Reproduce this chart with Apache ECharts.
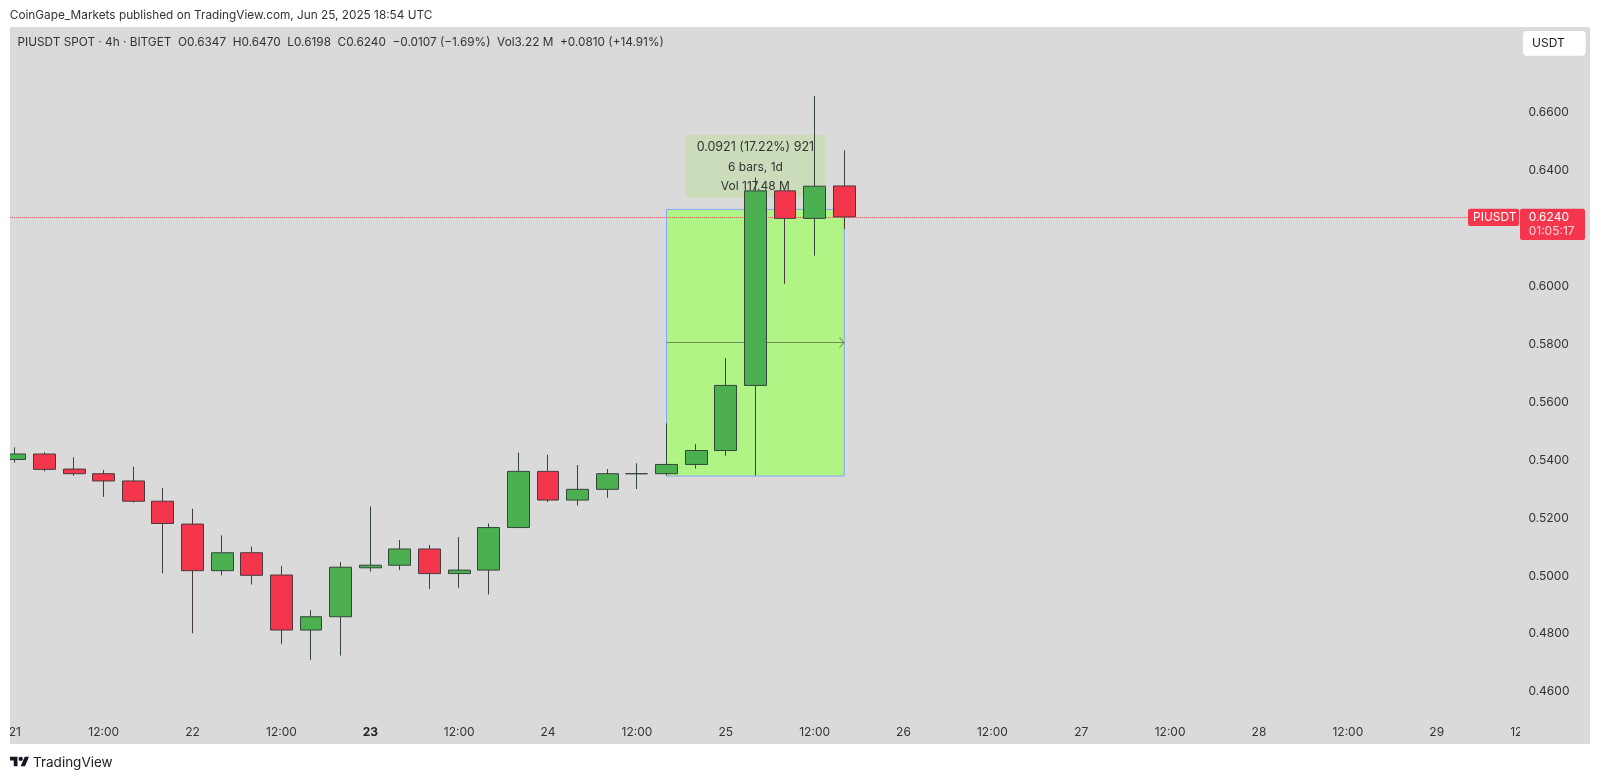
<!DOCTYPE html>
<html>
<head>
<meta charset="utf-8">
<title>PIUSDT</title>
<style>
  html, body { margin: 0; padding: 0; background: #fff; }
  #chart { width: 1600px; height: 779px; }
</style>
<script src="https://cdn.jsdelivr.net/npm/echarts@6/dist/echarts.min.js"></script>
</head>
<body>
<div id="chart"></div>
<script>
// one label per 4h slot, 21 Jun 00:00 onward
const timeLabels = [
  '21','','','12:00','','',
  '22','','','12:00','','',
  '23','','','12:00','','',
  '24','','','12:00','','',
  '25','','','12:00','','',
  '26','','','12:00','','',
  '27','','','12:00','','',
  '28','','','12:00','','',
  '29','','','12:00'
];
const opens  = [0.5402,0.5421,0.5369,0.5353,0.5328,0.5258,0.5179,0.5018,0.5080,0.5003,0.4813,0.4859,0.5028,0.5037,0.5093,0.5008,0.5020,0.5167,0.5361,0.5262,0.5299,0.5353,0.5353,0.5385,0.5433,0.5658,0.6330,0.6235,0.6347];
const closes = [0.5421,0.5368,0.5353,0.5328,0.5258,0.5181,0.5018,0.5080,0.5002,0.4813,0.4859,0.5030,0.5037,0.5093,0.5008,0.5020,0.5167,0.5361,0.5262,0.5299,0.5353,0.5353,0.5385,0.5433,0.5658,0.6330,0.6235,0.6346,0.6240];
const lows   = [0.5391,0.5361,0.5346,0.5273,0.5253,0.5009,0.4802,0.5002,0.4970,0.4764,0.4710,0.4725,0.5015,0.5020,0.4955,0.4959,0.4936,0.5167,0.5255,0.5243,0.5270,0.5300,0.5347,0.5371,0.5415,0.5347,0.6009,0.6106,0.6198];
const highs  = [0.5444,0.5427,0.5410,0.5366,0.5377,0.5304,0.5232,0.5140,0.5101,0.5034,0.4881,0.5048,0.5240,0.5124,0.5107,0.5134,0.5181,0.5426,0.5418,0.5383,0.5369,0.5389,0.5527,0.5455,0.5752,0.6376,0.6332,0.6658,0.6470];

const priceMin = 0.46;
const priceMax = 0.68;
const priceStep = 0.02;
const lastClose = 0.6240;

// long position drawing
const longStart = 22, longEnd = 28;
const longTop = 0.6266, longBottom = 0.5345, longMid = 0.5806;
const longLines = ['0.0921 (17.22%) 921', '6 bars, 1d', 'Vol 117.48 M'];

const publishLine = 'CoinGape_Markets published on TradingView.com, Jun 25, 2025 18:54 UTC';
const legendLine = 'PIUSDT SPOT · 4h · BITGET  O0.6347  H0.6470  L0.6198  C0.6240  −0.0107 (−1.69%)  Vol3.22 M  +0.0810 (+14.91%)';

const FONT = 'Inter, "Liberation Sans", sans-serif';
const GREEN = '#4caf50', RED = '#f4364c', BG = '#dadada';

function creatChart(){
  const chart = echarts.init(document.getElementById('chart'));
  window.addEventListener('resize', function() {
    chart.resize();
  });
  const chart_option = {
    animation: false,
    backgroundColor: '#fff',
    grid: { left: -0.11, right: 59.6, top: 54.8, bottom: 87.3 },
    xAxis: {
      type: 'category',
      data: timeLabels,
      boundaryGap: true,
      axisLine: { show: false },
      axisTick: { show: false },
      splitLine: { show: false },
      axisLabel: {
        interval: 0,
        hideOverlap: false,
        margin: 35,
        color: '#333',
        fontFamily: FONT,
        fontSize: 12,
        formatter: function(v){ return v === '23' ? '{b|23}' : v; },
        rich: { b: { fontWeight: 'bold', color: '#222', fontFamily: FONT, fontSize: 12 } }
      }
    },
    yAxis: {
      type: 'value',
      position: 'right',
      min: priceMin,
      max: priceMax,
      interval: priceStep,
      z: 6,
      axisLine: { show: false },
      axisTick: { show: false },
      splitLine: { show: false },
      axisLabel: {
        margin: -12,
        padding: [2, 0, 0, 0],
        showMaxLabel: false,
        color: '#333',
        fontFamily: FONT,
        fontSize: 12,
        formatter: function(v){ return v.toFixed(4); }
      }
    },
    series: [{
      type: 'candlestick',
      barWidth: 22.4,
      data: opens.map(function(o, i){ return [o, closes[i], lows[i], highs[i]]; }),
      itemStyle: {
        color: GREEN,
        color0: RED,
        borderColor: '#33463a',
        borderColor0: '#4a3a3c',
        borderWidth: 1
      },
      markArea: {
        silent: true,
        z: 1,
        itemStyle: { color: '#b0f486', borderColor: '#86a5f5', borderWidth: 1 },
        data: [[
          { xAxis: longStart, yAxis: longTop },
          { xAxis: longEnd, yAxis: longBottom }
        ]]
      },
      markLine: {
        silent: true,
        z: 1,
        precision: 4,
        label: { show: false },
        data: [
          {
            yAxis: lastClose,
            symbol: 'none',
            lineStyle: { color: RED, width: 1, type: 'dotted', opacity: 0.8 }
          },
          [
            { coord: [longStart, longMid], symbol: 'none', lineStyle: { color: '#6c8e53', width: 1, type: 'solid' } },
            // tip of the chevron is the middle of the symbol box, so it stops on the line end
            { coord: [longEnd, longMid], symbol: 'path://M5 0 L5.01 0 Z M0 10 L5 5 L10 10 L9.2 10.4 L5 6.2 L.8 10.4 Z', symbolSize: [11, 10] }
          ]
        ]
      }
    }]
  };
  chart.setOption(chart_option);

  // annotations sit on the pixel scale of the axes
  const priceY = chart.convertToPixel({ yAxisIndex: 0 }, lastClose);
  const boxX = chart.convertToPixel({ xAxisIndex: 0 }, 25);
  const boxTop = chart.convertToPixel({ yAxisIndex: 0 }, 0.6523);
  const boxBottom = chart.convertToPixel({ yAxisIndex: 0 }, 0.6305);

  function txt(x, y, text, font, fill, align){
    return {
      type: 'text', x: x, y: y, z: 20, silent: true,
      style: { text: text, font: font, fill: fill, align: align || 'left', verticalAlign: 'middle' }
    };
  }
  function box(x, y, w, h, fill, r, z){
    return {
      type: 'rect', x: x, y: y, z: z, silent: true,
      shape: { x: 0, y: 0, width: w, height: h, r: r || 0 },
      style: { fill: fill }
    };
  }
  // logo pieces, drawn in a 36 unit wide box
  function logo(type, shape){
    return {
      type: type, x: 10, y: 754.6, scaleX: 0.535, scaleY: 0.535, z: 20, silent: true,
      shape: shape, style: { fill: '#131722' }
    };
  }

  chart.setOption({
    graphic: { elements: [
      box(10, 27, 1580, 717, BG, 0, -1),
      // clip the tick labels at both ends of the time scale
      box(0, 27, 10, 717, '#fff', 0, 10),
      box(1520, 715, 70, 29, BG, 0, 10),
      box(boxX - 70, boxTop, 140, boxBottom - boxTop, '#cbdcbb', 3, 1),
      txt(boxX, boxTop + 12.7, longLines[0], '12.5px ' + FONT, '#333', 'center'),
      txt(boxX, boxTop + 32.7, longLines[1], '12px ' + FONT, '#333', 'center'),
      txt(boxX, boxTop + 51.7, longLines[2], '12px ' + FONT, '#333', 'center'),
      txt(9.8, 15.7, publishLine, '11.8px ' + FONT, '#333'),
      txt(17.5, 42.7, legendLine, '11.8px ' + FONT, '#333'),
      box(1523, 31, 62.7, 24.7, '#fff', 4, 15),
      txt(1532, 43.5, 'USDT', '12px ' + FONT, '#222'),
      box(1468, priceY - 8.2, 51, 17.3, RED, 2, 15),
      box(1520, priceY - 8.2, 65, 31.3, RED, 2, 15),
      txt(1473, priceY + 0.3, 'PIUSDT', '12px ' + FONT, '#fff'),
      txt(1528.7, priceY + 0.3, lastClose.toFixed(4), '12px ' + FONT, '#fff'),
      txt(1528.7, priceY + 14.5, '01:05:17', '12px ' + FONT, '#ffd6da'),
      logo('polygon', { points: [[0,4],[14,4],[14,22],[7,22],[7,11],[0,11]] }),
      logo('polygon', { points: [[27.5,4],[35.5,4],[28,22],[20,22]] }),
      logo('circle', { cx: 20, cy: 8, r: 4 }),
      txt(33, 763, 'TradingView', '13.5px ' + FONT, '#222')
    ] }
  });
}
window.onload = function(){
  creatChart();
};
</script>
</body>
</html>
